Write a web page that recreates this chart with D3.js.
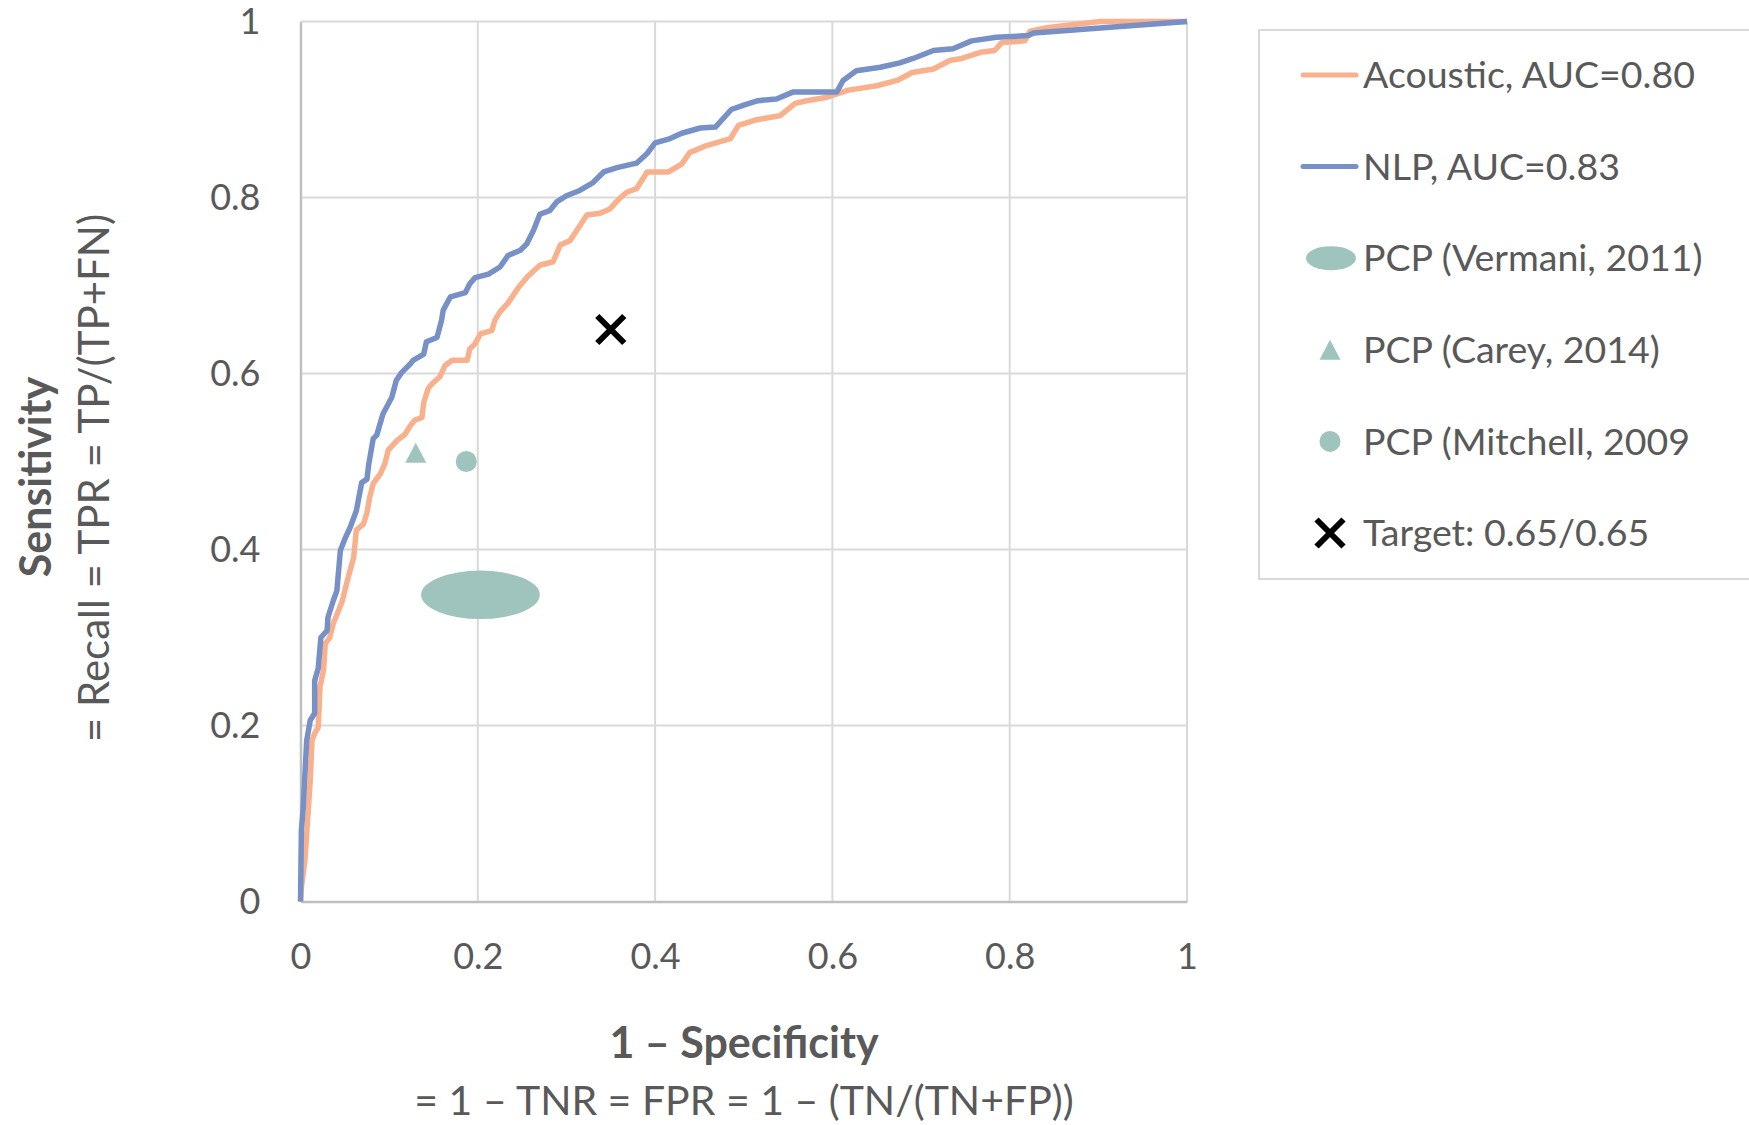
<!DOCTYPE html>
<html>
<head>
<meta charset="utf-8">
<script src="https://cdn.jsdelivr.net/npm/d3@7"></script>
<style>
  body { margin: 0; background: #fff; overflow: hidden; }
  text { font-family: Lato, "Open Sans", sans-serif; fill: #595959; }
</style>
</head>
<body>
<div id="chart"></div>
<script>
// ROC curve points [1 - specificity, sensitivity]
const acousticRoc = [
  [0, 0], [0.001, 0.016], [0.005, 0.047], [0.007, 0.077], [0.009, 0.107], [0.011, 0.138],
  [0.013, 0.183], [0.016, 0.191], [0.020, 0.198], [0.022, 0.244], [0.026, 0.263], [0.028, 0.293],
  [0.033, 0.300], [0.037, 0.316], [0.047, 0.341], [0.054, 0.369], [0.060, 0.391], [0.063, 0.422],
  [0.071, 0.429], [0.075, 0.442], [0.078, 0.459], [0.082, 0.475], [0.090, 0.486], [0.095, 0.497],
  [0.099, 0.513], [0.109, 0.524], [0.118, 0.531], [0.124, 0.541], [0.129, 0.547], [0.137, 0.550],
  [0.139, 0.567], [0.144, 0.583], [0.150, 0.590], [0.157, 0.596], [0.163, 0.609], [0.171, 0.615],
  [0.188, 0.615], [0.191, 0.628], [0.197, 0.634], [0.203, 0.645], [0.216, 0.649], [0.219, 0.660],
  [0.225, 0.670], [0.234, 0.680], [0.246, 0.698], [0.257, 0.711], [0.270, 0.723], [0.285, 0.727],
  [0.293, 0.746], [0.304, 0.751], [0.312, 0.763], [0.319, 0.774], [0.323, 0.780], [0.338, 0.782],
  [0.349, 0.787], [0.360, 0.799], [0.368, 0.806], [0.379, 0.810], [0.391, 0.829], [0.415, 0.829],
  [0.430, 0.838], [0.439, 0.851], [0.458, 0.859], [0.485, 0.867], [0.494, 0.882], [0.513, 0.888],
  [0.541, 0.893], [0.558, 0.907], [0.571, 0.910], [0.594, 0.914], [0.618, 0.922], [0.650, 0.927],
  [0.673, 0.933], [0.690, 0.942], [0.714, 0.946], [0.733, 0.956], [0.746, 0.958], [0.767, 0.965],
  [0.783, 0.967], [0.791, 0.976], [0.817, 0.978], [0.823, 0.989], [0.842, 0.993], [0.868, 0.996],
  [0.902, 1.0], [1, 1]
];

const nlpRoc = [
  [0, 0], [0.001, 0.081], [0.003, 0.105], [0.007, 0.183], [0.011, 0.206], [0.016, 0.214],
  [0.016, 0.251], [0.020, 0.265], [0.023, 0.300], [0.030, 0.308], [0.031, 0.323], [0.037, 0.342],
  [0.041, 0.353], [0.045, 0.399], [0.050, 0.412], [0.056, 0.425], [0.063, 0.444], [0.069, 0.476],
  [0.075, 0.480], [0.077, 0.497], [0.082, 0.526], [0.086, 0.530], [0.093, 0.554], [0.103, 0.573],
  [0.108, 0.592], [0.114, 0.601], [0.124, 0.611], [0.127, 0.615], [0.139, 0.622], [0.142, 0.636],
  [0.154, 0.641], [0.159, 0.660], [0.161, 0.672], [0.169, 0.687], [0.186, 0.692], [0.191, 0.702],
  [0.197, 0.709], [0.212, 0.713], [0.225, 0.721], [0.234, 0.734], [0.248, 0.740], [0.255, 0.747],
  [0.263, 0.763], [0.270, 0.781], [0.281, 0.785], [0.289, 0.795], [0.300, 0.802], [0.315, 0.808],
  [0.330, 0.817], [0.342, 0.829], [0.357, 0.834], [0.379, 0.839], [0.391, 0.850], [0.400, 0.862],
  [0.417, 0.867], [0.430, 0.873], [0.451, 0.879], [0.468, 0.880], [0.486, 0.900], [0.500, 0.905],
  [0.516, 0.910], [0.537, 0.912], [0.556, 0.920], [0.605, 0.920], [0.612, 0.933], [0.627, 0.944],
  [0.654, 0.948], [0.676, 0.953], [0.691, 0.958], [0.714, 0.967], [0.736, 0.969], [0.757, 0.978],
  [0.785, 0.982], [0.821, 0.984], [0.827, 0.987], [1, 1]
];

// published PCP results and the target
const vermaniRange = { xMin: 0.136, xMax: 0.270, yMin: 0.321, yMax: 0.376 };
const careyPoint = [0.13, 0.51];
const mitchellPoint = [0.187, 0.50];
const targetPoint = [0.35, 0.65];

const tickValues = [0, 0.2, 0.4, 0.6, 0.8, 1];
const legendLabels = [
  "Acoustic, AUC=0.80",
  "NLP, AUC=0.83",
  "PCP (Vermani, 2011)",
  "PCP (Carey, 2014)",
  "PCP (Mitchell, 2009",
  "Target: 0.65/0.65"
];

const orange = "#f8b18c";
const blue = "#7790c5";
const teal = "#9fc4bd";

const width = 1749;
const height = 1125;
const margin = { top: 21.5, left: 300.5, right: 562, bottom: 223.5 };
const innerWidth = width - margin.left - margin.right;
const innerHeight = height - margin.top - margin.bottom;

const svg = d3.select("#chart")
  .append("svg")
  .attr("width", width)
  .attr("height", height)
  .style("display", "block");

const g = svg.append("g")
  .attr("transform", `translate(${margin.left}, ${margin.top})`);

const x = d3.scaleLinear().domain([0, 1]).range([0, innerWidth]);
const y = d3.scaleLinear().domain([0, 1]).range([innerHeight, 0]);

// gridlines
g.append("g")
  .selectAll("line")
  .data(tickValues.slice(1))
  .enter().append("line")
    .attr("x1", d => x(d)).attr("x2", d => x(d))
    .attr("y1", 0).attr("y2", innerHeight)
    .attr("stroke", "#d9d9d9")
    .attr("stroke-width", 2);

g.append("g")
  .selectAll("line")
  .data(tickValues.slice(1))
  .enter().append("line")
    .attr("x1", 0).attr("x2", innerWidth)
    .attr("y1", d => y(d)).attr("y2", d => y(d))
    .attr("stroke", "#d9d9d9")
    .attr("stroke-width", 2);

// axes
const xAxis = g.append("g")
  .attr("transform", `translate(0, ${innerHeight})`)
  .call(d3.axisBottom(x).tickValues(tickValues).tickFormat(d => String(d)).tickSize(0).tickPadding(42));
xAxis.select(".domain").attr("stroke", "#bfbfbf").attr("stroke-width", 2.5);
xAxis.selectAll("text").style("font-size", "36px").attr("fill", "#595959");

const yAxis = g.append("g")
  .call(d3.axisLeft(y).tickValues(tickValues).tickFormat(d => String(d)).tickSize(0).tickPadding(40));
yAxis.select(".domain").attr("stroke", "#bfbfbf").attr("stroke-width", 2.5);
yAxis.selectAll("text").style("font-size", "36px").attr("fill", "#595959");

// ROC lines
const line = d3.line()
  .x(d => x(d[0]))
  .y(d => y(d[1]));

g.append("path")
  .datum(acousticRoc)
  .attr("fill", "none")
  .attr("stroke", orange)
  .attr("stroke-width", 5.5)
  .attr("stroke-linejoin", "round")
  .attr("d", line);

g.append("path")
  .datum(nlpRoc)
  .attr("fill", "none")
  .attr("stroke", blue)
  .attr("stroke-width", 5.5)
  .attr("stroke-linejoin", "round")
  .attr("d", line);

// Vermani ellipse covers its reported range
g.append("ellipse")
  .attr("cx", (x(vermaniRange.xMin) + x(vermaniRange.xMax)) / 2)
  .attr("cy", (y(vermaniRange.yMin) + y(vermaniRange.yMax)) / 2)
  .attr("rx", (x(vermaniRange.xMax) - x(vermaniRange.xMin)) / 2)
  .attr("ry", (y(vermaniRange.yMin) - y(vermaniRange.yMax)) / 2)
  .attr("fill", teal);

// marker helpers
function drawTriangle(sel, cx, cy) {
  sel.append("path")
    .attr("d", `M${cx},${cy - 10}L${cx + 10.5},${cy + 10}L${cx - 10.5},${cy + 10}Z`)
    .attr("fill", teal);
}
function drawDot(sel, cx, cy) {
  sel.append("circle").attr("cx", cx).attr("cy", cy).attr("r", 10.5).attr("fill", teal);
}
function drawCross(sel, cx, cy) {
  sel.append("path")
    .attr("d", `M${cx - 13.5},${cy - 13.5}L${cx + 13.5},${cy + 13.5}M${cx + 13.5},${cy - 13.5}L${cx - 13.5},${cy + 13.5}`)
    .attr("stroke", "#000")
    .attr("stroke-width", 6)
    .attr("fill", "none");
}

drawTriangle(g, x(careyPoint[0]), y(careyPoint[1]));
drawDot(g, x(mitchellPoint[0]), y(mitchellPoint[1]));
drawCross(g, x(targetPoint[0]), y(targetPoint[1]));

// axis titles
svg.append("text")
  .attr("x", 744).attr("y", 1043).attr("dy", "0.35em")
  .attr("text-anchor", "middle")
  .style("font-size", "43px").style("font-weight", "bold")
  .text("1 – Specificity");

svg.append("text")
  .attr("x", 744).attr("y", 1101).attr("dy", "0.35em")
  .attr("text-anchor", "middle")
  .style("font-size", "41px")
  .text("= 1 – TNR = FPR = 1 – (TN/(TN+FP))");

svg.append("text")
  .attr("transform", "translate(36, 477) rotate(-90)")
  .attr("dy", "0.35em")
  .attr("text-anchor", "middle")
  .style("font-size", "43px").style("font-weight", "bold")
  .text("Sensitivity");

svg.append("text")
  .attr("transform", "translate(94, 478) rotate(-90)")
  .attr("dy", "0.35em")
  .attr("text-anchor", "middle")
  .style("font-size", "42px")
  .text("= Recall = TPR = TP/(TP+FN)");

// legend, its right side runs past the page edge
const legend = svg.append("g");
legend.append("rect")
  .attr("x", 1259).attr("y", 30)
  .attr("width", 495).attr("height", 549)
  .attr("fill", "#fff")
  .attr("stroke", "#d9d9d9")
  .attr("stroke-width", 2);

const rowY = i => 75 + i * 91.6;
const symX = 1330;

legend.append("line")
  .attr("x1", 1303).attr("x2", 1356).attr("y1", rowY(0)).attr("y2", rowY(0))
  .attr("stroke", orange).attr("stroke-width", 5).attr("stroke-linecap", "round");
legend.append("line")
  .attr("x1", 1303).attr("x2", 1356).attr("y1", rowY(1)).attr("y2", rowY(1))
  .attr("stroke", blue).attr("stroke-width", 5).attr("stroke-linecap", "round");
legend.append("ellipse")
  .attr("cx", symX + 1).attr("cy", rowY(2)).attr("rx", 25).attr("ry", 12)
  .attr("fill", teal);
drawTriangle(legend, symX, rowY(3));
drawDot(legend, symX, rowY(4));
drawCross(legend, symX, rowY(5));

legend.selectAll("text.label")
  .data(legendLabels)
  .enter().append("text")
    .attr("class", "label")
    .attr("x", 1363)
    .attr("y", (d, i) => rowY(i))
    .attr("dy", "0.35em")
    .style("font-size", "37.5px")
    .text(d => d);
</script>
</body>
</html>
